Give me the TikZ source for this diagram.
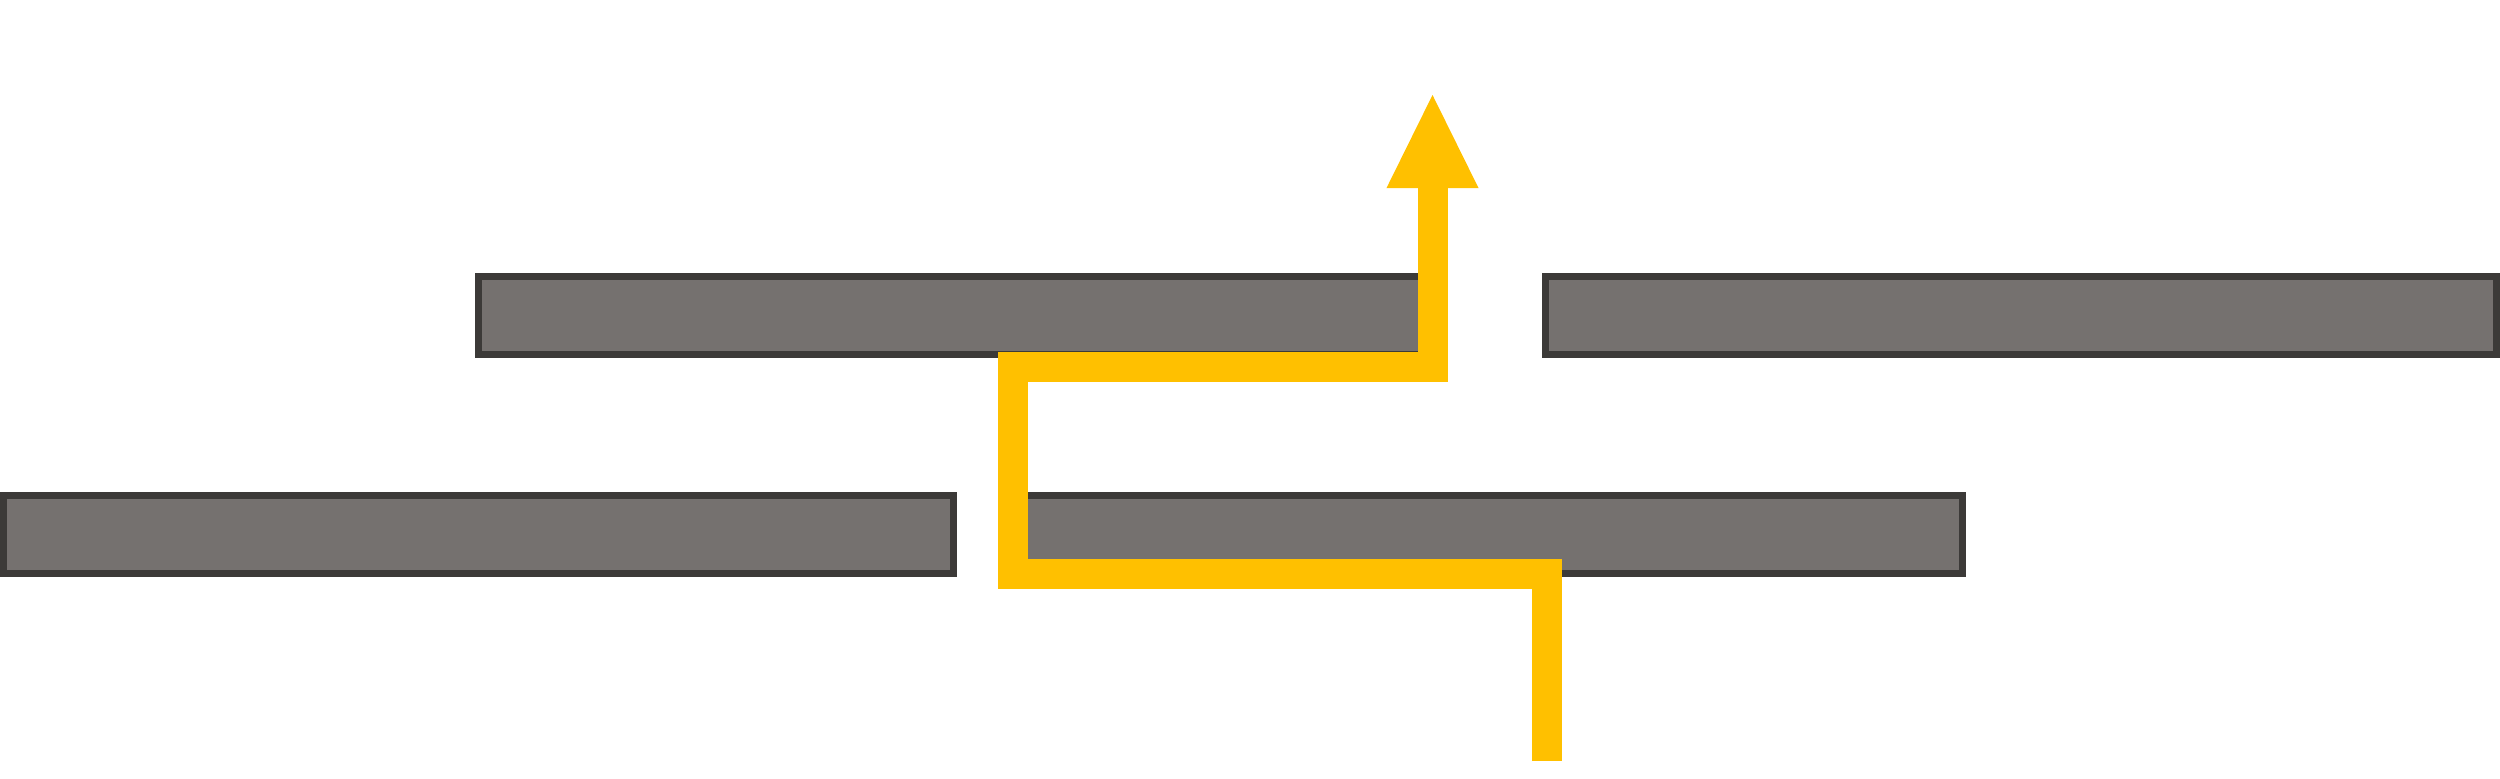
\documentclass[tikz,border=0pt]{standalone}
\usetikzlibrary{arrows.meta}
\definecolor{boxfill}{HTML}{75716F}
\definecolor{boxline}{HTML}{3C3A38}
\definecolor{flow}{HTML}{FFC000}
\begin{document}
\begin{tikzpicture}[x=0.01cm,y=-0.01cm,
  bar/.style={draw=boxline, fill=boxfill, line width=0.07cm, rectangle,
    inner sep=0pt, minimum width=9.5cm, minimum height=0.78cm},
  flowline/.style={draw=flow, line width=0.3cm, line join=miter,
    -{Triangle[width=0.92cm,length=0.93cm,line width=0pt]}}]
\useasboundingbox (0,0) rectangle (2500,778);
\node[bar] (tl) at (953.5,315.5) {};
\node[bar] (tr) at (2021,315.5) {};
\node[bar] (bl) at (478.5,534.5) {};
\node[bar] (bm) at (1487.5,534.5) {};
\coordinate (s) at (1546.5,761);
\coordinate (c1) at (1546.5,573.5);
\coordinate (c2) at (1012.5,573.5);
\coordinate (c3) at (1012.5,366.5);
\coordinate (c4) at (1432.5,366.5);
\coordinate (t) at (1432.5,95);
\draw[flowline] (s) -- (c1) -- (c2) -- (c3) -- (c4) -- (t);
\end{tikzpicture}
\end{document}
